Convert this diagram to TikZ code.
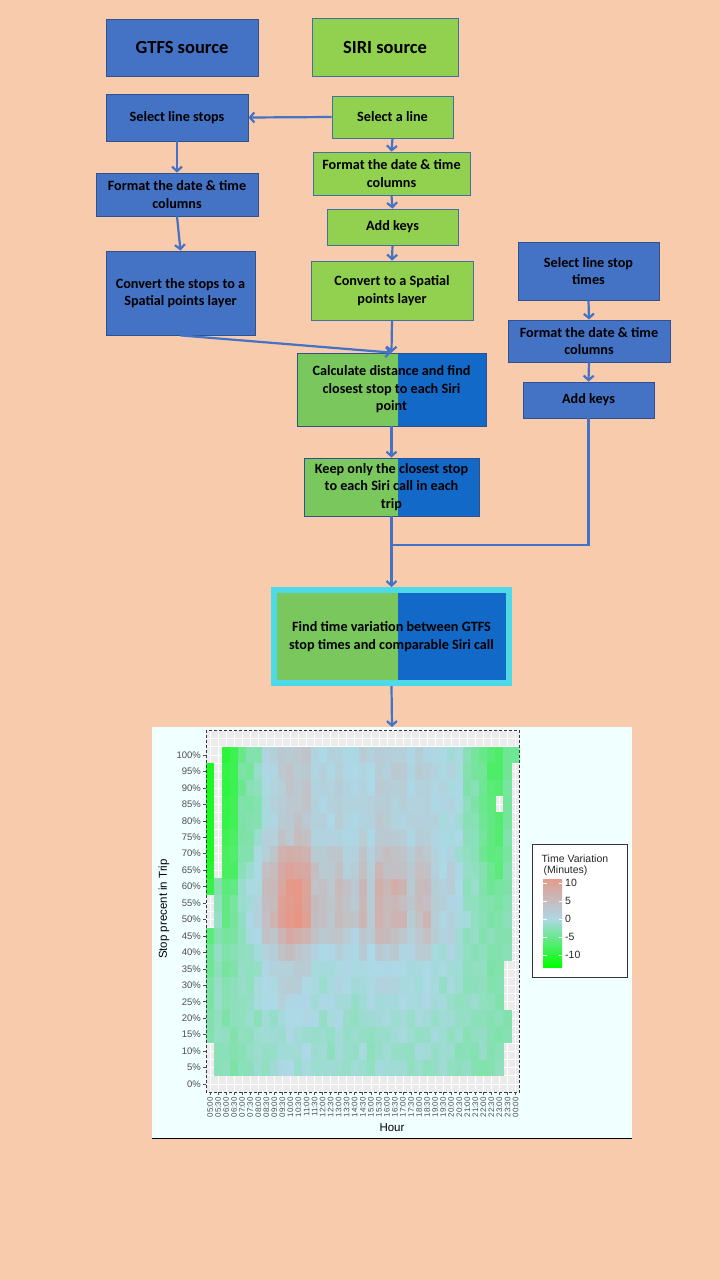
\documentclass[tikz,border=0pt]{standalone}
\usepackage{fontspec}
\setmainfont{Carlito}
\newfontfamily\plotfont{Liberation Sans}
\usetikzlibrary{arrows.meta}

\definecolor{peach}{HTML}{F8CBAD}
\definecolor{gtfsblue}{HTML}{4472C4}
\definecolor{darkline}{HTML}{2F528F}
\definecolor{sirigreen}{HTML}{92D050}
\definecolor{greenline}{HTML}{41719C}
\definecolor{mixgreen}{HTML}{7AC75D}
\definecolor{mixblue}{HTML}{1269C7}
\definecolor{cyanframe}{HTML}{4DD9E8}
\definecolor{azure}{HTML}{F0FFFF}
\definecolor{panelgrey}{HTML}{EBEBEB}
\definecolor{axisgrey}{HTML}{4D4D4D}
\definecolor{hic}{RGB}{240,140,120}
\definecolor{midc}{RGB}{173,216,230}
\definecolor{loc}{RGB}{0,255,0}

\tikzset{
  flowbox/.style={draw=darkline, line width=0.8pt, align=center, inner sep=1pt,
    font=\fontsize{14.2}{17.5}\selectfont\bfseries},
  gtfsbox/.style={flowbox, fill=gtfsblue},
  siribox/.style={flowbox, fill=sirigreen, draw=greenline},
  srcfont/.style={font=\fontsize{18.5}{21}\selectfont\bfseries},
  splitbox/.style={flowbox, path picture={
      \fill[mixgreen] (path picture bounding box.south west) rectangle ([xshift=6pt]path picture bounding box.north);
      \fill[mixblue] ([xshift=6pt]path picture bounding box.south) rectangle (path picture bounding box.north east);}},
  flowarrow/.style={draw=gtfsblue, line width=2.2pt, -{Straight Barb[length=4.5pt,width=10pt]}},
  flowline/.style={draw=gtfsblue, line width=2.2pt},
  ylab/.style={font=\plotfont\fontsize{9.5}{10}\selectfont, text=axisgrey, inner sep=0pt},
  xlab/.style={font=\plotfont\fontsize{8}{9}\selectfont, text=axisgrey, inner sep=0pt},
  axtitle/.style={font=\plotfont\fontsize{11.5}{12}\selectfont, inner sep=0pt},
  legtext/.style={font=\plotfont\fontsize{10.5}{11}\selectfont, text=black!85, inner sep=0pt},
}

% heat map model: one value per half hour and per row
\def\midday{{0,0,0,0,0.1,0.2,0.4,0.6,0.7,0.8,0.8,0.9,0.9,0.8,0.7,0.6,0.5,0.3,0.3,0.4,0.6,0.6,0.8,0.8,0.7,0.6,0.4,0.5,0.5,0.3,0.2,0.1,0,0,0,0,0,0,0}}
\def\early{{1.8,0.6,1.3,1.2,0.6,0.5,0.4,0.2,0.1,0,0,0,0,0,0,0,0,0,0,0,0,0,0,0,0,0,0,0,0,0,0,0.1,0.3,0.4,0.6,0.8,0.9,0.6,0.7}}
\def\rowbase{{0,-2,-2,-1.9,-1.8,-1.5,-1.4,-1.2,-1,-0.8,-0.5,-0.5,-0.5,-0.8,-0.8,-0.5,-0.5,-0.5,-0.5,-0.5,-0.5}}
\def\rowpeak{{0,1.2,1.2,1.4,1.6,2,2,2.5,3.5,6,7.5,7.5,7.5,6.5,5.5,3,2.6,2.6,2.6,2.6,2.6}}
\def\rowgreen{{0,-0.5,-0.5,-0.6,-0.8,-1,-1.2,-1.5,-2,-2.5,-3,-3,-4,-4.5,-5,-5.5,-6,-6,-6.5,-6.5,-6.5}}

\begin{document}
\begin{tikzpicture}[x=1pt, y=-1pt]
	%%%%% START %%%%%
	\fill[peach] (0,0) rectangle (720,1280);
	\useasboundingbox (0,0) rectangle (720,1280);

	%% sources
	\node[gtfsbox, srcfont, minimum width=152pt, minimum height=57pt] (gtfs) at (182,47.5) {GTFS source};
	\node[siribox, srcfont, minimum width=146pt, minimum height=58pt] (siri) at (385,47) {SIRI source};

	%% GTFS branch
	\node[gtfsbox, minimum width=142pt, minimum height=47pt] (stops) at (177,117.5) {Select line stops};
	\node[gtfsbox, minimum width=162pt, minimum height=43pt] (fmtL) at (177,194.5) {Format the date \& time\\columns};
	\node[gtfsbox, minimum width=149pt, minimum height=84pt] (convS) at (180.5,293) {Convert the stops to a\\Spatial points layer};

	%% SIRI branch
	\node[siribox, minimum width=121pt, minimum height=42pt] (line) at (392.5,117) {Select a line};
	\node[siribox, minimum width=157pt, minimum height=43pt] (fmtM) at (391.5,173.5) {Format the date \& time\\columns};
	\node[siribox, minimum width=131pt, minimum height=36pt] (keysM) at (392.5,227) {Add keys};
	\node[siribox, minimum width=162pt, minimum height=59pt] (convP) at (392,290.5) {Convert to a Spatial\\points layer};

	%% stop times branch
	\node[gtfsbox, minimum width=141pt, minimum height=58pt] (times) at (588.5,271) {Select line stop\\times};
	\node[gtfsbox, minimum width=162pt, minimum height=42pt] (fmtR) at (589,341) {Format the date \& time\\columns};
	\node[gtfsbox, minimum width=131pt, minimum height=36pt] (keysR) at (588.5,400) {Add keys};

	%% joined steps
	\node[splitbox, minimum width=189pt, minimum height=73pt] (calc) at (391.5,389.5) {Calculate distance and find\\closest stop to each Siri\\point};
	\node[splitbox, minimum width=175pt, minimum height=58pt] (keep) at (391.5,487) {Keep only the closest stop\\to each Siri call in each\\trip};
	\node[splitbox, draw=cyanframe, line width=6pt, minimum width=235pt, minimum height=93pt] (find) at (391.5,636.5) {Find time variation between GTFS\\stop times and comparable Siri call};
	\coordinate (join) at (391.5,545);

	%% connectors
	\draw[flowarrow] (line.west) -- (stops.east);
	\draw[flowarrow] (stops.south) -- (fmtL.north);
	\draw[flowarrow] (fmtL.south) -- (convS.north);
	\draw[flowarrow] (line.south) -- (fmtM.north);
	\draw[flowarrow] (fmtM.south) -- (keysM.north);
	\draw[flowarrow] (keysM.south) -- (convP.north);
	\draw[flowarrow] (convP.south) -- (calc.north);
	\draw[flowarrow] (convS.south) -- (calc.north);
	\draw[flowarrow] (calc.south) -- (keep.north);
	\draw[flowarrow] (times.south) -- (fmtR.north);
	\draw[flowarrow] (fmtR.south) -- (keysR.north);
	\draw[flowline] (keysR.south) |- (join);
	\draw[flowarrow] (keep.south) -- (find.north);

	%% plot
	\node[fill=azure, inner sep=0pt, outer sep=0pt, minimum width=480pt, minimum height=411pt] (plot) at (392,932.5) {};
	\draw[black, line width=1pt] (plot.south west) -- (plot.south east);
	\draw[flowarrow] (find.south) -- (plot.north);

	\begin{scope}
		\clip (206,730) rectangle (519.5,1092);
		\fill[panelgrey] (206,730) rectangle (519.5,1092);
		\foreach \k in {-1,...,43}
			\draw[white, line width=0.6pt] (206,{1084-8.225*\k}) -- (519.5,{1084-8.225*\k});
		\foreach \c in {0,...,38}
			\draw[white, line width=0.6pt] ({210.02+8.04*\c},730) -- ({210.02+8.04*\c},1092);
		\pgfmathsetseed{11}
		\foreach \c in {0,...,38} {
			\pgfmathsetmacro\mc{\midday[\c]*(1+0.45*rand)}
			\pgfmathsetmacro\ec{\early[\c]}
			\foreach \r in {1,...,20} {
				\pgfmathtruncatemacro\skipcell{(\c==0 && (\r<3 || \r==10 || \r==11 || \r==20)) || (\c==1 && \r>12) || (\c==36 && \r==17) || (\c==37 && (\r<3 || (\r>4 && \r<8))) || (\c==38 && \r<20)}
				\ifnum\skipcell=0
					\pgfmathsetmacro\val{max(-10,min(10,\rowbase[\r]+\mc*\rowpeak[\r]+\ec*\rowgreen[\r]+0.8*rand))}
					\ifdim\val pt<0pt
						\pgfmathtruncatemacro\pct{min(100,-8.5*\val)}
						\colorlet{cellc}{loc!\pct!midc}
					\else
						\pgfmathtruncatemacro\pct{min(100,10*\val)}
						\colorlet{cellc}{hic!\pct!midc}
					\fi
					\fill[cellc] ({206+8.04*\c},{1092.4-16.45*\r}) rectangle ({206.4+8.04*(\c+1)},{1075.6-16.45*\r});
				\fi
			}
		}
	\end{scope}
	\draw[axisgrey!70!black, line width=0.8pt, dash pattern=on 3pt off 2pt] (206,730) rectangle (519.5,1092);

	%% axes
	\foreach \k in {0,...,20} {
		\pgfmathtruncatemacro\pp{5*\k}
		\draw[axisgrey, line width=0.6pt] (203,{1084-16.45*\k}) -- (206,{1084-16.45*\k});
		\node[ylab, anchor=east] (ytick\k) at (201,{1084-16.45*\k}) {\pp\%};
	}
	\foreach \i in {0,...,38} {
		\pgfmathtruncatemacro\hh{mod(5+floor(\i/2),24)}
		\pgfmathtruncatemacro\half{mod(\i,2)}
		\draw[axisgrey, line width=0.6pt] ({210.02+8.04*\i},1092) -- ({210.02+8.04*\i},1095);
		\node[xlab, rotate=90, anchor=east] (xtick\i) at ({210.02+8.04*\i},1097) {\ifnum\hh<10 0\fi\hh:\ifnum\half=1 30\else 00\fi};
	}
	\node[axtitle] (xtitle) at (392,1128) {Hour};
	\node[axtitle, rotate=90] (ytitle) at (164,909) {Stop precent in Trip};

	%% legend
	\node[draw=axisgrey!70!black, fill=white, line width=0.8pt, minimum width=95pt, minimum height=133pt] (legend) at (579.5,910.5) {};
	\node[legtext, anchor=west] (legtitle) at (541.5,859) {Time Variation};
	\node[legtext, anchor=west] (legunit) at (543.5,871) {(Minutes)};
	\shade[top color=hic!80!midc, bottom color=midc] (543,879) rectangle (562,919.3);
	\shade[top color=midc, bottom color=loc] (543,918.7) rectangle (562,967);
	\foreach \lv/\ly in {10/883, 5/901, 0/919, -5/937, -10/955} {
		\draw[white, line width=0.6pt] (543,\ly) -- (546.5,\ly);
		\draw[white, line width=0.6pt] (558.5,\ly) -- (562,\ly);
		\node[legtext, anchor=west] at (565,\ly) {\lv};
	}
	%%%%% END %%%%%
\end{tikzpicture}
\end{document}
